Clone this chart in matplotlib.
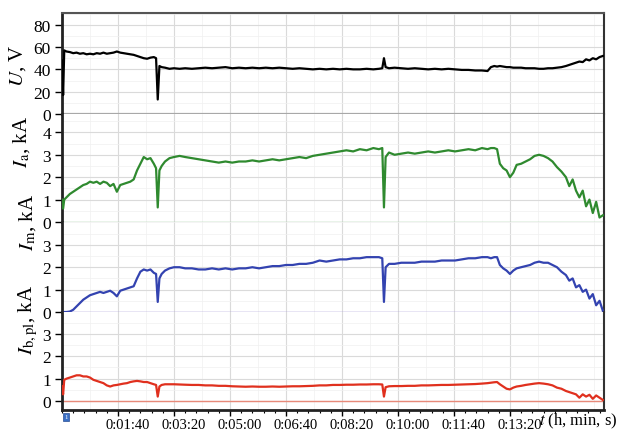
"""
Arc voltage and currents vs time (stacked panels)
"""
import numpy as np
import matplotlib as mpl
import matplotlib.pyplot as plt
import matplotlib.transforms as mtransforms
from matplotlib.ticker import MultipleLocator, FixedLocator

mpl.rcParams['font.family'] = ['Liberation Serif', 'DejaVu Serif']
mpl.rcParams['mathtext.fontset'] = 'stix'

# time, s (shared by all traces)
t = [0, 2, 4, 8, 14, 20, 26, 32, 38, 44,
     50, 56, 62, 68, 74, 80, 86, 92, 98, 104,
     110, 116, 122, 128, 134, 140, 146, 152, 158, 164,
     168, 171, 174, 178, 184, 192, 200, 210, 220, 232,
     244, 256, 268, 280, 292, 304, 316, 328, 340, 352,
     364, 376, 388, 400, 412, 424, 436, 448, 460, 472,
     484, 496, 508, 520, 532, 544, 556, 566, 572, 575,
     578, 584, 594, 606, 618, 630, 642, 654, 666, 678,
     690, 702, 714, 726, 738, 750, 760, 766, 772, 777,
     782, 788, 794, 800, 806, 812, 820, 828, 836, 844,
     852, 860, 868, 876, 884, 892, 900, 906, 912, 918,
     924, 930, 936, 942, 948, 954, 960, 966]

# U, V
u = [48, 17, 57, 56, 55.5, 54.5, 55, 54, 54.5, 53.5,
     54, 53.5, 54.5, 54, 55, 54, 54.5, 55, 56, 55,
     54.5, 54, 53.5, 53, 52, 51, 50, 49.5, 50.5, 51,
     50, 13, 43, 42, 41.5, 40.5, 41, 40.5, 41, 40.5,
     41, 41.5, 41, 41.5, 42, 41, 41.5, 41, 41.5, 41,
     41.5, 41, 41.5, 41, 40.5, 41, 40.5, 40, 40.5, 40,
     40.5, 40, 40.5, 40, 40, 40.5, 40, 40.5, 41, 50,
     42, 41, 41.5, 41, 40.5, 41, 40.5, 40, 40.5, 40,
     40.5, 40, 39.5, 39.5, 39, 39, 38.5, 42, 43, 42.5,
     43, 42.5, 42, 42, 41.5, 41.5, 41.5, 41, 41, 41,
     40.5, 40.5, 41, 41, 41.5, 42, 43, 44, 45, 46,
     47, 46.5, 49, 48, 50, 49, 51, 52]

# I_a, kA
i_a = [1.0, 0.6, 1.0, 1.1, 1.25, 1.35, 1.45, 1.55, 1.65, 1.7,
       1.8, 1.75, 1.8, 1.7, 1.8, 1.75, 1.6, 1.7, 1.35, 1.65,
       1.7, 1.75, 1.8, 1.9, 2.3, 2.6, 2.9, 2.8, 2.85, 2.6,
       2.4, 0.65, 2.3, 2.5, 2.7, 2.85, 2.9, 2.95, 2.9, 2.85,
       2.8, 2.75, 2.7, 2.65, 2.7, 2.65, 2.7, 2.7, 2.75, 2.7,
       2.75, 2.8, 2.75, 2.8, 2.85, 2.9, 2.85, 2.95, 3.0, 3.05,
       3.1, 3.15, 3.2, 3.15, 3.25, 3.2, 3.3, 3.25, 3.3, 0.65,
       2.9, 3.1, 3.0, 3.05, 3.1, 3.05, 3.1, 3.15, 3.1, 3.15,
       3.2, 3.15, 3.2, 3.25, 3.2, 3.3, 3.25, 3.3, 3.3, 3.25,
       2.6, 2.4, 2.3, 2.0, 2.2, 2.55, 2.6, 2.7, 2.8, 2.95,
       3.0, 2.95, 2.85, 2.7, 2.45, 2.25, 2.0, 1.6, 1.9, 1.4,
       1.1, 1.4, 0.7, 1.0, 0.4, 0.9, 0.2, 0.3]

# I_m, kA
i_m = [0, 0, 0, 0, 0.02, 0.1, 0.25, 0.4, 0.55, 0.65,
       0.75, 0.8, 0.85, 0.9, 0.85, 0.9, 0.95, 0.85, 0.7, 0.95,
       1.0, 1.05, 1.1, 1.15, 1.5, 1.8, 1.9, 1.85, 1.9, 1.75,
       1.7, 0.45, 1.5, 1.7, 1.85, 1.95, 2.0, 2.0, 1.95, 1.95,
       1.9, 1.9, 1.95, 1.9, 1.95, 1.9, 1.95, 1.95, 2.0, 1.95,
       2.0, 2.05, 2.05, 2.1, 2.1, 2.15, 2.15, 2.2, 2.3, 2.25,
       2.3, 2.35, 2.35, 2.4, 2.4, 2.45, 2.45, 2.45, 2.4, 0.45,
       2.0, 2.15, 2.15, 2.2, 2.2, 2.2, 2.25, 2.25, 2.25, 2.3,
       2.3, 2.3, 2.35, 2.4, 2.4, 2.45, 2.45, 2.4, 2.45, 2.45,
       2.1, 1.95, 1.85, 1.7, 1.85, 1.95, 2.0, 2.05, 2.1, 2.2,
       2.25, 2.2, 2.2, 2.1, 2.0, 1.8, 1.65, 1.4, 1.5, 1.1,
       1.2, 0.9, 1.0, 0.6, 0.8, 0.3, 0.5, 0.05]

# I_b,pl, kA
i_b = [0.65, 0.3, 0.95, 1.0, 1.05, 1.1, 1.15, 1.15, 1.1, 1.1,
       1.05, 0.95, 0.9, 0.85, 0.8, 0.7, 0.65, 0.7, 0.72, 0.75,
       0.78, 0.8, 0.85, 0.88, 0.9, 0.88, 0.85, 0.85, 0.8, 0.75,
       0.72, 0.2, 0.65, 0.72, 0.75, 0.75, 0.75, 0.74, 0.73, 0.72,
       0.72, 0.7, 0.7, 0.68, 0.68, 0.66, 0.65, 0.64, 0.65, 0.64,
       0.64, 0.65, 0.64, 0.65, 0.66, 0.66, 0.67, 0.68, 0.7, 0.7,
       0.72, 0.72, 0.73, 0.73, 0.74, 0.74, 0.75, 0.75, 0.74, 0.2,
       0.62, 0.66, 0.67, 0.67, 0.68, 0.68, 0.7, 0.7, 0.71, 0.72,
       0.72, 0.73, 0.74, 0.75, 0.76, 0.78, 0.8, 0.82, 0.84, 0.85,
       0.75, 0.65, 0.55, 0.52, 0.6, 0.65, 0.68, 0.72, 0.75, 0.78,
       0.8, 0.78, 0.75, 0.7, 0.6, 0.55, 0.45, 0.4, 0.35, 0.3,
       0.15, 0.3, 0.2, 0.28, 0.1, 0.25, 0.15, 0.05]

x_ticks = [100, 200, 300, 400, 500, 600, 700, 800]
x_labels = ['0:01:40', '0:03:20', '0:05:00', '0:06:40', '0:08:20',
            '0:10:00', '0:11:40', '0:13:20']

W, H = 636, 431
fig = plt.figure(figsize=(W / 100, H / 100), dpi=100, facecolor='w')


def box(top, bottom):
    # pixel rows -> figure fraction
    return [62 / W, 1 - bottom / H, (604 - 62) / W, (bottom - top) / H]


# panel settings: data, colour, zero-line colour, ylim, major ticks, minor step, rows
panels = [
    (u, 'black', '#a8a8a8', (0, 90.5), [0, 20, 40, 60, 80], 10, (14, 115)),
    (i_a, '#2f8a2f', '#9fd09f', (0, 4.82), [0, 1, 2, 3, 4], 0.5, (115, 223)),
    (i_m, '#3343b0', '#9a8ad8', (0, 4.02), [0, 1, 2, 3], 0.5, (223, 313)),
    (i_b, '#e0301e', '#e88a7a', (-0.4, 3.98), [0, 1, 2, 3], 0.5, (313, 411)),
]

axes = []
for k, (y, c, zc, yl, yt, ym, (top, bot)) in enumerate(panels):
    ax = fig.add_axes(box(top, bot))
    ax.set_xlim(0, 968)
    ax.set_ylim(*yl)
    ax.yaxis.set_major_locator(FixedLocator(yt))
    ax.yaxis.set_minor_locator(MultipleLocator(ym))
    ax.xaxis.set_major_locator(FixedLocator(x_ticks))
    ax.xaxis.set_minor_locator(MultipleLocator(20))
    ax.grid(which='major', color='#dadada', lw=0.8, zorder=0)
    ax.grid(which='minor', axis='y', color='#f0f0f0', lw=0.5, zorder=0)
    for xm in np.arange(50, 968, 100):
        ax.axvline(xm, color='#f0f0f0', lw=0.5, zorder=0)
    ax.set_axisbelow(True)
    ax.axhline(0, color=zc, lw=1.6 if k == 0 else 1.0, zorder=1)
    ax.plot(t, y, color=c, lw=1.6, zorder=3)
    ax.tick_params(axis='y', which='major', direction='out', length=5, width=1,
                   pad=3, labelsize=12.5)
    ax.tick_params(axis='y', which='minor', length=0)
    ax.spines['left'].set_linewidth(2)
    ax.spines['left'].set_color('#222222')
    ax.spines['right'].set_linewidth(1.5)
    ax.spines['right'].set_color('#333333')
    ax.spines['top'].set_visible(k == 0)
    ax.spines['top'].set_color('#555555')
    ax.spines['top'].set_linewidth(1.5)
    ax.spines['bottom'].set_visible(k == 3)
    if k < 3:
        ax.tick_params(axis='x', which='both', length=0, labelbottom=False)
    axes.append(ax)

ax = axes[3]
ax.spines['bottom'].set_linewidth(2)
ax.spines['bottom'].set_color('#222222')
ax.set_xticklabels(x_labels)
ax.tick_params(axis='x', which='major', direction='out', length=4, width=1,
               pad=1.5, labelsize=10.5)
ax.tick_params(axis='x', which='minor', direction='out', length=2.5, width=0.8)
shift = mtransforms.ScaledTranslation(10 / 100, 0, fig.dpi_scale_trans)
for lab in ax.get_xticklabels():
    lab.set_transform(lab.get_transform() + shift)

# y labels
fig.text(18 / W, 1 - 66 / H, '$U$, V', rotation=90, ha='center', va='center', fontsize=15)
fig.text(22 / W, 1 - 142 / H, '$I_{\\rm a}$, kA', rotation=90, ha='center', va='center', fontsize=15)
fig.text(28 / W, 1 - 222 / H, '$I_{\\rm m}$, kA', rotation=90, ha='center', va='center', fontsize=15)
fig.text(28 / W, 1 - 320 / H, '$I_{\\rm b,pl}$, kA', rotation=90, ha='center', va='center', fontsize=15)

# x label
fig.text(539 / W, 1 - 421 / H, '$t$ (h, min, s)', ha='left', va='center', fontsize=12)

# small blue marker under the axis
fig.text(66 / W, 1 - 418 / H, '1', ha='center', va='center', fontsize=5, color='w',
         bbox=dict(boxstyle='square,pad=0.25', fc='#3a6fc4', ec='#2a4f94', lw=0.5))

plt.savefig('out.png', dpi=100, facecolor='w')
